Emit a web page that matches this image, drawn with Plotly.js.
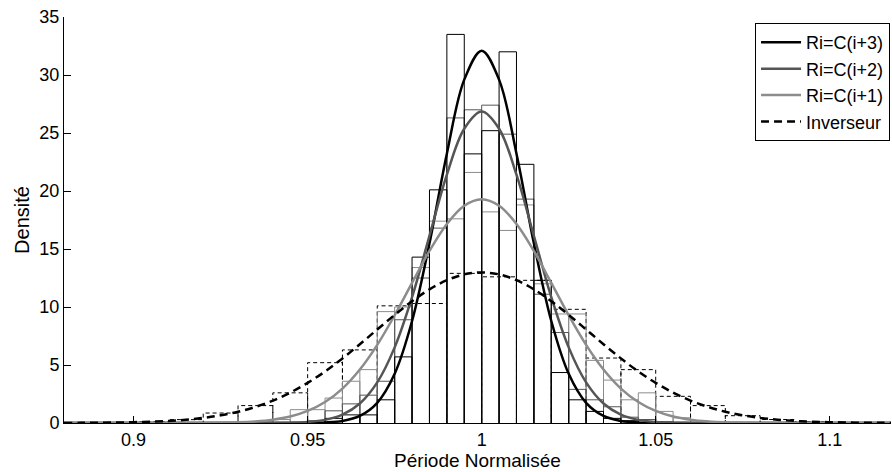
<!DOCTYPE html>
<html>
<head>
<meta charset="utf-8">
<script src="https://cdn.plot.ly/plotly-3.0.1.min.js"></script>
<style>html,body{margin:0;padding:0;background:#fff;}#chart{width:892px;height:472px;}</style>
</head>
<body>
<div id="chart"></div>
<script>
// ---- Histogram data (density), bin width 0.005 ----
const fineBinLeft = [0.93,0.935,0.94,0.945,0.95,0.955,0.96,0.965,0.97,0.975,0.98,0.985,0.99,0.995,1.0,1.005,1.01,1.015,1.02,1.025,1.03,1.035,1.04,1.045,1.05,1.055,1.06];
const fineBinWidth = 0.005;
const histC3 = [0,0,0,0,0,0.4,0.7,0.7,2.0,5.7,14.3,20.1,33.5,23.2,25.2,32.0,22.3,12.3,4.35,2.0,1.0,0.4,0.2,0,0,0,0];
const histC2 = [0,0,0,0,0.2,1.05,1.65,2.4,3.6,8.9,12.5,16.8,26.3,27.0,27.4,24.9,19.3,11.1,7.8,2.9,2.0,1.4,0.5,0.3,0.1,0,0];
const histC1 = [0,0.15,0.3,1.15,1.15,2.15,3.6,4.6,9.6,10.0,13.4,17.4,17.6,21.6,18.2,16.6,18.8,12.0,9.4,9.4,5.4,3.7,2.0,2.6,1.0,0.45,0.2];
// ---- Inverseur histogram, bin width 0.01 ----
const coarseBinLeft = [0.90,0.91,0.92,0.93,0.94,0.95,0.96,0.97,0.98,0.99,1.00,1.01,1.02,1.03,1.04,1.05,1.06,1.07,1.08,1.09];
const coarseBinWidth = 0.01;
const histInv = [0.1,0.29,0.86,1.5,2.6,5.2,6.3,10.1,10.3,12.9,12.6,12.3,9.8,5.6,4.6,2.3,1.5,0.63,0.3,0.1];

// ---- Fitted density curves ----
const fitX = [0.88,0.885,0.89,0.895,0.9,0.905,0.91,0.915,0.92,0.925,0.93,0.935,0.94,0.945,0.95,0.955,0.96,0.965,0.97,0.975,0.98,0.985,0.99,0.995,1.0,1.005,1.01,1.015,1.02,1.025,1.03,1.035,1.04,1.045,1.05,1.055,1.06,1.065,1.07,1.075,1.08,1.085,1.09,1.095,1.1,1.105,1.11,1.115,1.12];
const fitC3 = [0,0,0,0,0,0,0,0,0,0,0,0,0,0,0.01,0.05,0.18,0.61,1.74,4.24,8.79,15.49,23.22,29.60,32.10,29.60,23.22,15.49,8.79,4.24,1.74,0.61,0.18,0.05,0.01,0,0,0,0,0,0,0,0,0,0,0,0,0,0];
const fitC2 = [0,0,0,0,0,0,0,0,0,0,0,0,0.01,0.03,0.09,0.27,0.72,1.68,3.50,6.52,10.85,16.13,21.41,25.37,26.85,25.37,21.41,16.13,10.85,6.52,3.50,1.68,0.72,0.27,0.09,0.03,0.01,0,0,0,0,0,0,0,0,0,0,0,0];
const fitC1 = [0,0,0,0,0,0,0,0.004,0.01,0.03,0.06,0.14,0.29,0.56,1.04,1.81,2.97,4.61,6.74,9.29,12.08,14.83,17.16,18.73,19.29,18.73,17.16,14.83,12.08,9.29,6.74,4.61,2.97,1.81,1.04,0.56,0.29,0.14,0.06,0.03,0.01,0.004,0,0,0,0,0,0,0];
const fitInv = [0.006,0.012,0.02,0.04,0.07,0.11,0.18,0.28,0.44,0.66,0.97,1.39,1.93,2.62,3.46,4.44,5.57,6.79,8.06,9.32,10.50,11.52,12.31,12.81,12.98,12.81,12.31,11.52,10.50,9.32,8.06,6.79,5.57,4.44,3.46,2.62,1.93,1.39,0.97,0.66,0.44,0.28,0.18,0.11,0.07,0.04,0.02,0.012,0.006];

const seriesNames = ['Ri=C(i+3)','Ri=C(i+2)','Ri=C(i+1)','Inverseur'];
const colC3 = '#000000', colC2 = '#555555', colC1 = '#8c8c8c', colInv = '#000000';

// build outline (each bar: left base -> left top -> right top -> right base)
function outline(lefts, width, heights) {
  const xs = [], ys = [];
  for (let i = 0; i < lefts.length; i++) {
    const l = lefts[i], r = +(lefts[i] + width).toFixed(4), h = heights[i];
    xs.push(l, l, r, r); ys.push(0, h, h, 0);
  }
  return {x: xs, y: ys};
}
function histTrace(o, color, dash) {
  return {x: o.x, y: o.y, type: 'scatter', mode: 'lines', showlegend: false, hoverinfo: 'skip',
          line: {color: color, width: 1, dash: dash || 'solid', shape: 'linear'}};
}
const hC1 = outline(fineBinLeft, fineBinWidth, histC1);
const hC2 = outline(fineBinLeft, fineBinWidth, histC2);
const hC3 = outline(fineBinLeft, fineBinWidth, histC3);
const hInv = outline(coarseBinLeft, coarseBinWidth, histInv);

function curve(y, name, color, dash) {
  return {x: fitX, y: y, name: name, type: 'scatter', mode: 'lines',
          line: {color: color, width: 2.5, dash: dash || 'solid', shape: 'spline', smoothing: 1}};
}

const data = [
  histTrace(hInv, colInv, '4px,3px'),
  histTrace(hC1, colC1),
  histTrace(hC2, colC2),
  histTrace(hC3, colC3),
  curve(fitC3, seriesNames[0], colC3),
  curve(fitC2, seriesNames[1], colC2),
  curve(fitC1, seriesNames[2], colC1),
  curve(fitInv, seriesNames[3], colInv, '8px,5px')
];

const font = {family: 'Liberation Sans, Arial, Helvetica, sans-serif', size: 18, color: '#000'};
const layout = {
  width: 892, height: 472,
  margin: {l: 64, r: 1, t: 17, b: 49},
  paper_bgcolor: '#fff', plot_bgcolor: '#fff',
  font: font,
  showlegend: true,
  xaxis: {
    range: [0.88, 1.1176],
    tickvals: [0.9, 0.95, 1, 1.05, 1.1],
    ticktext: ['0.9', '0.95', '1', '1.05', '1.1'],
    ticks: 'inside', ticklen: 7, tickcolor: '#000', tickwidth: 1,
    showline: true, linecolor: '#000', linewidth: 1,
    showgrid: false, zeroline: false,
    tickfont: {size: 18},
    title: {text: 'Période Normalisée', font: {size: 19}, standoff: 0}
  },
  yaxis: {
    range: [0, 35],
    tickvals: [0, 5, 10, 15, 20, 25, 30, 35],
    ticks: 'inside', ticklen: 7, tickcolor: '#000', tickwidth: 1,
    showline: true, linecolor: '#000', linewidth: 1,
    showgrid: false, zeroline: false,
    tickfont: {size: 18},
    title: {text: 'Densité', font: {size: 20}, standoff: 4}
  },
  legend: {
    x: 0.8356, y: 0.985, xanchor: 'left', yanchor: 'top',
    bgcolor: '#fff', bordercolor: '#000', borderwidth: 1,
    font: {size: 18}, traceorder: 'normal', itemwidth: 40,
    tracegroupgap: 0
  }
};
Plotly.newPlot('chart', data, layout, {displayModeBar: false, staticPlot: true});
</script>
</body>
</html>
